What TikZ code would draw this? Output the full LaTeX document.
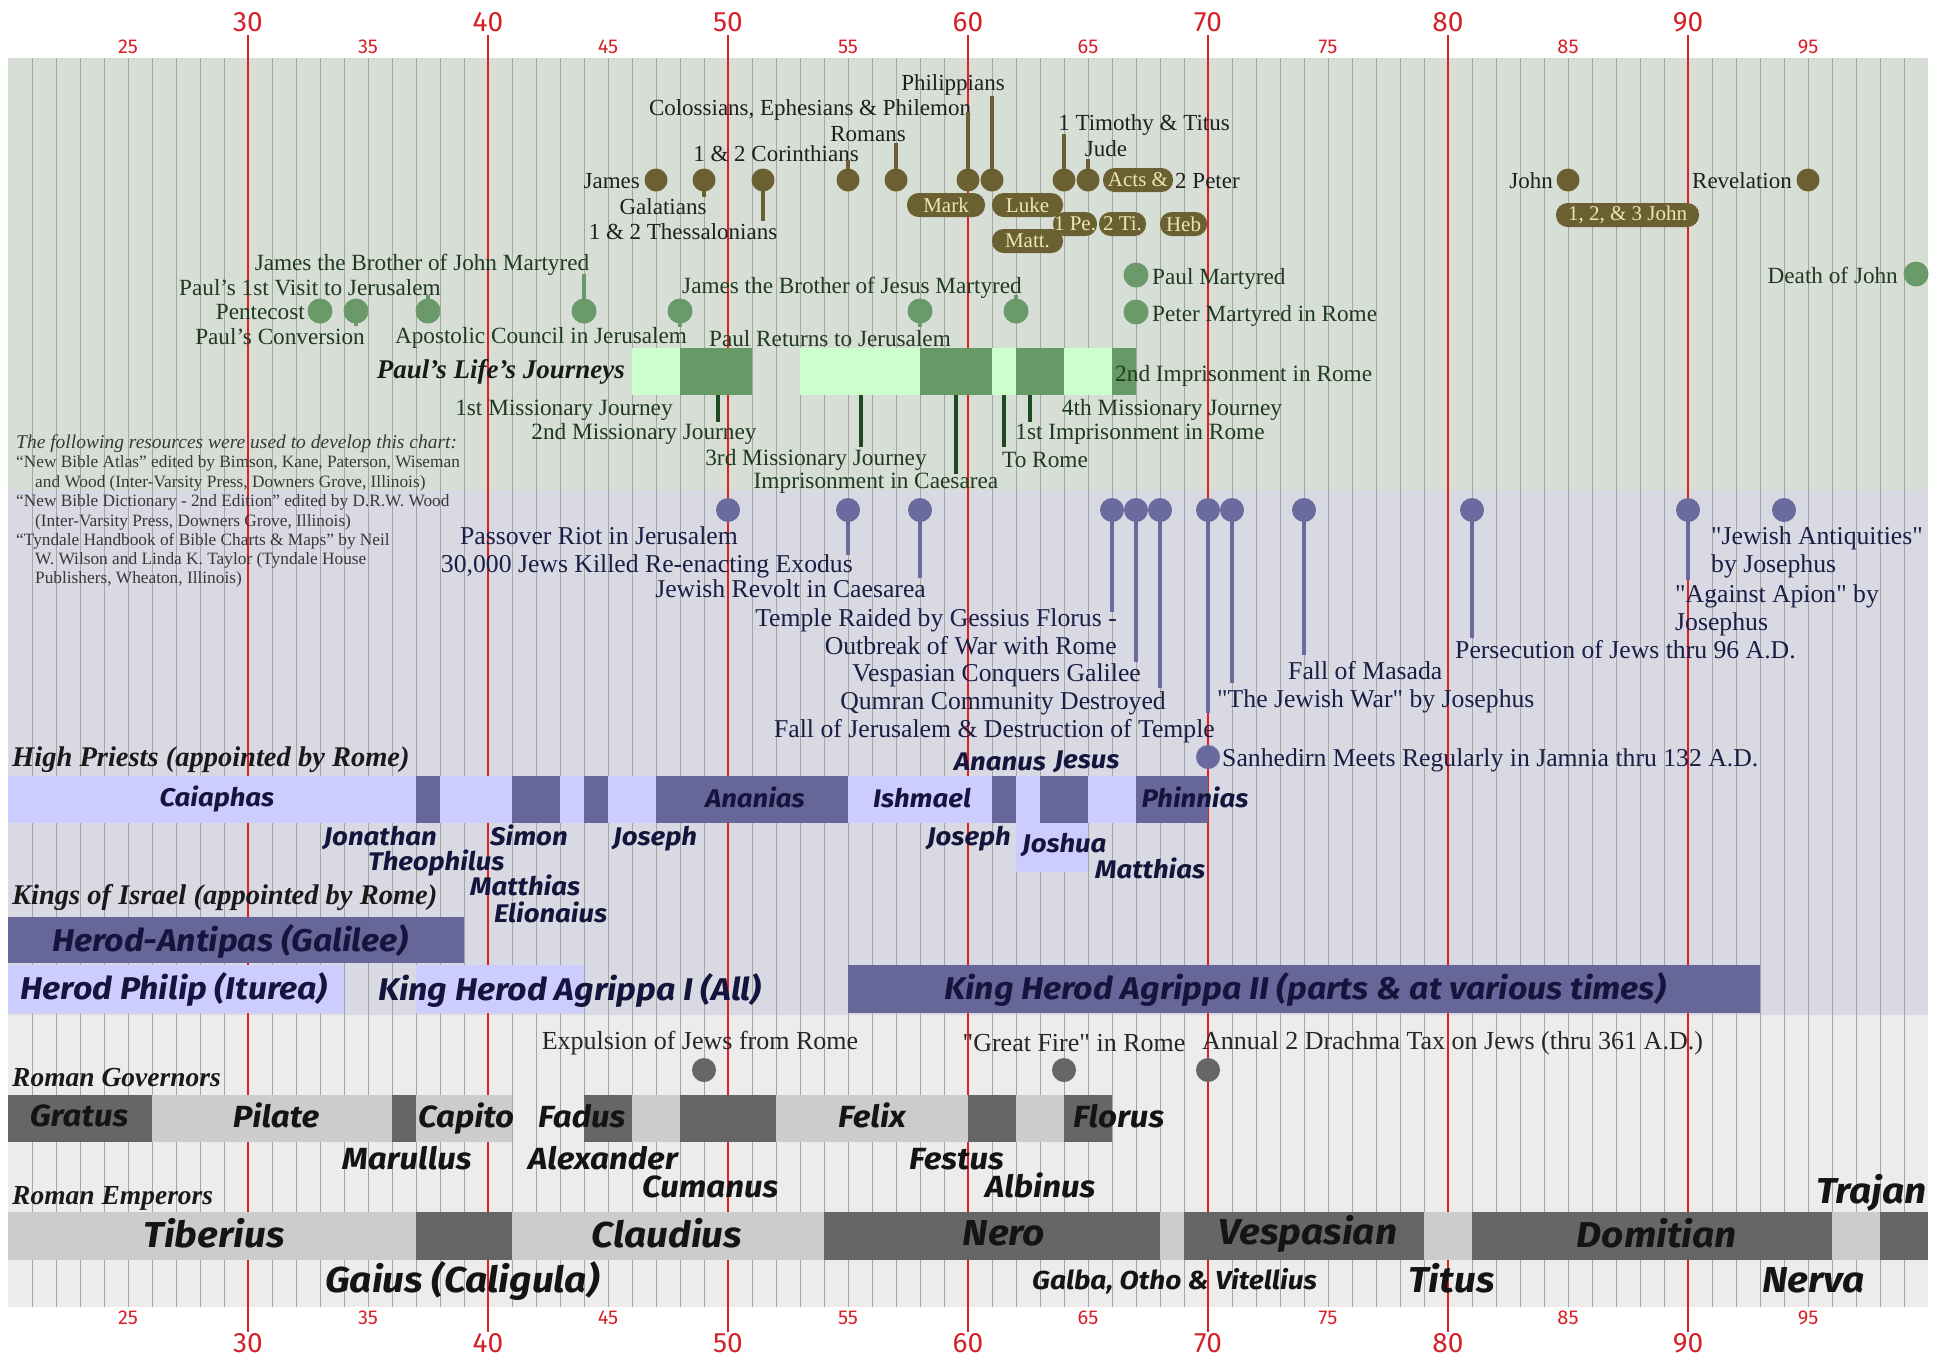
\documentclass[tikz,border=0pt]{standalone}
\usepackage{fontspec}
\setmainfont{Liberation Serif}[Ligatures=TeXOff]
\newfontfamily\sansf{Fira Sans}[FakeStretch=1.08]
\newfontfamily\numf{Fira Sans}
\newcommand{\Yr}[1]{(24*(#1)-472)}
\newcommand{\barseg}[5]{\fill[#1] ({\Yr{#2}},#4) rectangle ({\Yr{#3}},#5);}
\definecolor{bggreen}{HTML}{D6DED6}
\definecolor{bgblue}{HTML}{D8D9E3}
\definecolor{bggray}{HTML}{ECECEC}
\definecolor{gridc}{HTML}{A5A5A5}
\definecolor{redl}{HTML}{E02020}
\definecolor{rednum}{HTML}{D42028}
\definecolor{olive}{HTML}{6B6032}
\definecolor{cream}{HTML}{EEE6B0}
\definecolor{gdot}{HTML}{6A9A6A}
\definecolor{lgreen}{HTML}{CCFFCC}
\definecolor{dgreen}{HTML}{669966}
\definecolor{stemg}{HTML}{1F4A1F}
\definecolor{gtext}{HTML}{1F3A1F}
\definecolor{btext}{HTML}{1C1C44}
\definecolor{bdot}{HTML}{6A6A9E}
\definecolor{lav}{HTML}{CCCCFF}
\definecolor{slate}{HTML}{666699}
\definecolor{navy}{HTML}{14143C}
\definecolor{gdark}{HTML}{666666}
\definecolor{glight}{HTML}{CCCCCC}
\begin{document}
\begin{tikzpicture}[x=1pt,y=-1pt,
  gridline/.style={draw=gridc,line width=0.9pt},
  redline/.style={draw=redl,line width=2.2pt},
  bignum/.style={inner sep=0pt,text=rednum,font=\numf\fontsize{28}{30}\selectfont},
  smallnum/.style={inner sep=0pt,text=rednum,font=\numf\fontsize{20}{22}\selectfont},
  mw/.style={anchor=mid west,yshift=-4pt},
  me/.style={anchor=mid east,yshift=-4pt},
  bookdot/.style={circle,fill=olive,minimum size=23pt,inner sep=0pt},
  ostem/.style={draw=olive,line width=3.5pt},
  booklbl/.style={inner sep=0pt,text=black!88,font=\fontsize{23}{25}\selectfont,yshift=-2pt},
  pill/.style={fill=olive,text=cream,rounded corners=11.5pt,minimum height=24pt,inner sep=0pt,font=\fontsize{21}{22}\selectfont},
  evdot/.style={circle,fill=gdot,minimum size=25pt,inner sep=0pt},
  gstem/.style={draw=gdot,line width=4pt},
  evlbl/.style={inner sep=0pt,text=gtext,font=\fontsize{23.2}{25}\selectfont,yshift=-2pt},
  jlbl/.style={inner sep=0pt,text=gtext,font=\fontsize{23.3}{25}\selectfont,yshift=-2pt},
  jstem/.style={draw=stemg,line width=3.5pt},
  srclbl/.style={inner sep=0pt,text=black!78,font=\fontsize{17.3}{19}\selectfont,yshift=-1pt},
  bdotst/.style={circle,fill=bdot,minimum size=24pt,inner sep=0pt},
  bstem/.style={draw=bdot,line width=4pt},
  blbl/.style={inner sep=0pt,text=btext,font=\fontsize{25.7}{28}\selectfont,yshift=-2pt},
  hdr/.style={inner sep=0pt,text=black!90,font=\bfseries\itshape\fontsize{28.5}{30}\selectfont,yshift=-1pt},
  plbl/.style={inner sep=0pt,text=navy,font=\sansf\bfseries\itshape\fontsize{25.5}{28}\selectfont},
  klbl/.style={inner sep=0pt,text=navy,font=\sansf\bfseries\itshape\fontsize{31.4}{33}\selectfont},
  glbl/.style={inner sep=0pt,text=black!92,font=\sansf\bfseries\itshape\fontsize{30.6}{32}\selectfont},
  elbl/.style={inner sep=0pt,text=black!92,font=\sansf\bfseries\itshape\fontsize{36}{38}\selectfont},
  graydot/.style={circle,fill=gdark,minimum size=24pt,inner sep=0pt},
  rlbl/.style={inner sep=0pt,text=black!85,font=\fontsize{26}{28}\selectfont,yshift=-2pt}
]
\useasboundingbox (0,0) rectangle (1954,1358);
% ---------- backgrounds
\fill[bggreen] (8,58) rectangle (1928,490);
\fill[bgblue] (8,490) rectangle (1928,1015);
\fill[bggray] (8,1015) rectangle (1928,1307);
\foreach \k in {21,...,99} \draw[gridline] ({\Yr{\k}},58) -- ({\Yr{\k}},1307);
\foreach \k in {30,40,...,90} \draw[redline] ({\Yr{\k}},35) -- ({\Yr{\k}},1332);
\foreach \k in {30,40,...,90} {
  \node[bignum] (t\k) at ({\Yr{\k}},22) {\k};
  \node[bignum] (b\k) at ({\Yr{\k}},1343) {\k};}
\foreach \k in {25,35,...,95} {
  \node[smallnum] (ts\k) at ({\Yr{\k}},47) {\k};
  \node[smallnum] (bs\k) at ({\Yr{\k}},1318) {\k};}

% ---------- Paul's journeys bar
\barseg{lgreen}{46}{48}{348}{395}
\barseg{dgreen}{48}{51}{348}{395}
\barseg{lgreen}{53}{58}{348}{395}
\barseg{dgreen}{58}{61}{348}{395}
\barseg{lgreen}{61}{62}{348}{395}
\barseg{dgreen}{62}{64}{348}{395}
\barseg{lgreen}{64}{66}{348}{395}
\barseg{dgreen}{66}{67}{348}{395}

% ---------- High priests bar
\barseg{lav}{20}{37}{776}{823}
\barseg{slate}{37}{38}{776}{823}
\barseg{lav}{38}{41}{776}{823}
\barseg{slate}{41}{43}{776}{823}
\barseg{lav}{43}{44}{776}{823}
\barseg{slate}{44}{45}{776}{823}
\barseg{lav}{45}{47}{776}{823}
\barseg{slate}{47}{55}{776}{823}
\barseg{lav}{55}{61}{776}{823}
\barseg{slate}{61}{62}{776}{823}
\barseg{lav}{62}{63}{776}{823}
\barseg{slate}{63}{65}{776}{823}
\barseg{lav}{65}{67}{776}{823}
\barseg{slate}{67}{70}{776}{823}
\barseg{lav}{62}{65}{823}{872}

% ---------- Kings bars
\barseg{slate}{20}{39}{917}{963}
\barseg{lav}{20}{34}{965}{1013}
\barseg{lav}{37}{44}{965}{1013}
\barseg{slate}{55}{93}{965}{1013}

% ---------- Governors bar
\barseg{gdark}{20}{26}{1095}{1142}
\barseg{glight}{26}{36}{1095}{1142}
\barseg{gdark}{36}{37}{1095}{1142}
\barseg{glight}{37}{41}{1095}{1142}
\barseg{gdark}{44}{46}{1095}{1142}
\barseg{glight}{46}{48}{1095}{1142}
\barseg{gdark}{48}{52}{1095}{1142}
\barseg{glight}{52}{60}{1095}{1142}
\barseg{gdark}{60}{62}{1095}{1142}
\barseg{glight}{62}{64}{1095}{1142}
\barseg{gdark}{64}{66}{1095}{1142}

% ---------- Emperors bar
\barseg{glight}{20}{37}{1212}{1260}
\barseg{gdark}{37}{41}{1212}{1260}
\barseg{glight}{41}{54}{1212}{1260}
\barseg{gdark}{54}{68}{1212}{1260}
\barseg{glight}{68}{69}{1212}{1260}
\barseg{gdark}{69}{79}{1212}{1260}
\barseg{glight}{79}{81}{1212}{1260}
\barseg{gdark}{81}{96}{1212}{1260}
\barseg{glight}{96}{98}{1212}{1260}
\barseg{gdark}{98}{100}{1212}{1260}

% ---------- Books
\node[bookdot] (dJames) at ({\Yr{47}},180) {};
\node[booklbl,me] (lJames) at (640,180) {James};
\node[booklbl] (lGal) at (663,205) {Galatians};
\node[bookdot] (dGal) at ({\Yr{49}},180) {};
\coordinate (cGal) at ({\Yr{49}},197);
\draw[ostem] (dGal.center) -- (cGal);
\node[booklbl] (lThes) at (683,230) {1 \& 2 Thessalonians};
\node[bookdot] (dThes) at (763,180) {};
\coordinate (cThes) at (763,221);
\draw[ostem] (dThes.center) -- (cThes);
\node[booklbl] (lCor) at (776,152) {1 \& 2 Corinthians};
\node[bookdot] (dCor) at ({\Yr{55}},180) {};
\coordinate (cCor) at ({\Yr{55}},160);
\draw[ostem] (dCor.center) -- (cCor);
\node[booklbl] (lRom) at (868,132) {Romans};
\node[bookdot] (dRom) at ({\Yr{57}},180) {};
\coordinate (cRom) at ({\Yr{57}},143);
\draw[ostem] (dRom.center) -- (cRom);
\node[booklbl] (lCol) at (810,108) {Colossians, Ephesians \& Philemon};
\node[bookdot] (dCol) at ({\Yr{60}},180) {};
\coordinate (cCol) at ({\Yr{60}},112);
\draw[ostem] (dCol.center) -- (cCol);
\node[booklbl] (lPhil) at (953,83) {Philippians};
\node[bookdot] (dPhil) at ({\Yr{61}},180) {};
\coordinate (cPhil) at ({\Yr{61}},96);
\draw[ostem] (dPhil.center) -- (cPhil);
\node[booklbl] (lTim) at (1144,123) {1 Timothy \& Titus};
\node[bookdot] (dTim) at ({\Yr{64}},180) {};
\coordinate (cTim) at ({\Yr{64}},134);
\draw[ostem] (dTim.center) -- (cTim);
\node[booklbl] (lJude) at (1106,147) {Jude};
\node[bookdot] (dJude) at ({\Yr{65}},180) {};
\coordinate (cJude) at ({\Yr{65}},159);
\draw[ostem] (dJude.center) -- (cJude);
\node[bookdot] (dJohn) at ({\Yr{85}},180) {};
\node[booklbl,me] (lJohn) at (1553,180) {John};
\node[bookdot] (dRev) at ({\Yr{95}},180) {};
\node[booklbl,me] (lRev) at (1792,180) {Revelation};
\node[pill,minimum width=78pt] (pMark) at (946,205) {Mark};
\node[pill,minimum width=71pt] (pLuke) at (1027.5,205) {Luke};
\node[pill,minimum width=71pt] (pMatt) at (1027.5,241) {Matt.};
\node[pill,minimum width=44pt] (pPe) at (1075,224) {1 Pe.};
\node[pill,minimum width=47pt] (pTi) at (1122.5,224) {2 Ti.};
\node[pill,minimum width=47pt] (pHeb) at (1183.5,224) {Heb};
\node[pill,minimum width=70pt] (pActs) at (1138,180) {Acts \&};
\node[booklbl,mw] (l2Pet) at (1175,180) {2 Peter};
\node[pill,minimum width=143pt] (pJohn) at (1627.5,215) {1, 2, \& 3 John};

% ---------- Green events
\node[evdot] (ePent) at ({\Yr{33}},311) {};
\node[evlbl,me] (lPent) at (305,311) {Pentecost};
\node[evdot] (eConv) at ({\Yr{34.5}},311) {};
\coordinate (cConv) at ({\Yr{34.5}},326);
\draw[gstem] (eConv.center) -- (cConv);
\node[evlbl] (lConv) at (280,335) {Paul’s Conversion};
\node[evdot] (eVisit) at ({\Yr{37.5}},311) {};
\coordinate (cVisit) at ({\Yr{37.5}},295);
\draw[gstem] (eVisit.center) -- (cVisit);
\node[evlbl] (lVisit) at (310,286) {Paul’s 1st Visit to Jerusalem};
\node[evdot] (eJamesJ) at ({\Yr{44}},311) {};
\coordinate (cJamesJ) at ({\Yr{44}},274);
\draw[gstem] (eJamesJ.center) -- (cJamesJ);
\node[evlbl] (lJamesJ) at (422,263) {James the Brother of John Martyred};
\node[evdot] (eCouncil) at ({\Yr{48}},311) {};
\coordinate (cCouncil) at ({\Yr{48}},327);
\draw[gstem] (eCouncil.center) -- (cCouncil);
\node[evlbl] (lCouncil) at (541,336) {Apostolic Council in Jerusalem};
\node[evdot] (eReturn) at ({\Yr{58}},311) {};
\coordinate (cReturn) at ({\Yr{58}},327);
\draw[gstem] (eReturn.center) -- (cReturn);
\node[evlbl] (lReturn) at (830,337) {Paul Returns to Jerusalem};
\node[evdot] (eJamesB) at ({\Yr{62}},311) {};
\coordinate (cJamesB) at ({\Yr{62}},295);
\draw[gstem] (eJamesB.center) -- (cJamesB);
\node[evlbl] (lJamesB) at (852,286) {James the Brother of Jesus Martyred};
\node[evdot] (ePaulM) at ({\Yr{67}},275) {};
\node[evlbl,mw] (lPaulM) at (1152,276) {Paul Martyred};
\node[evdot] (ePeterM) at ({\Yr{67}},312) {};
\node[evlbl,mw] (lPeterM) at (1152,313) {Peter Martyred in Rome};
\node[evdot] (eJohnD) at ({\Yr{99.5}},274) {};
\node[evlbl,me] (lJohnD) at (1898,275) {Death of John};

% ---------- Journeys labels
\node[hdr,font=\bfseries\itshape\fontsize{27}{29}\selectfont,me] (lJour) at (625,371) {Paul’s Life’s Journeys};
\node[jlbl,mw] (l2Imp) at (1115,373) {2nd Imprisonment in Rome};
\coordinate (j2a) at (718,395); \coordinate (j2b) at (718,422);
\coordinate (j3a) at (861,395); \coordinate (j3b) at (861,447);
\coordinate (jCa) at (956,395); \coordinate (jCb) at (956,474);
\coordinate (jRa) at (1004,395); \coordinate (jRb) at (1004,447);
\coordinate (jIa) at (1030,395); \coordinate (jIb) at (1030,422);
\draw[jstem] (j2a) -- (j2b);
\draw[jstem] (j3a) -- (j3b);
\draw[jstem] (jCa) -- (jCb);
\draw[jstem] (jRa) -- (jRb);
\draw[jstem] (jIa) -- (jIb);
\node[jlbl] (lJ1) at (564,408) {1st Missionary Journey};
\node[jlbl] (lJ2) at (644,432) {2nd Missionary Journey};
\node[jlbl] (lJ3) at (816,458) {3rd Missionary Journey};
\node[jlbl] (lJC) at (876,481) {Imprisonment in Caesarea};
\node[jlbl] (lJR) at (1045,458) {To Rome};
\node[jlbl] (lJI) at (1140,432) {1st Imprisonment in Rome};
\node[jlbl] (lJ4) at (1172,408) {4th Missionary Journey};

% ---------- Sources
\node[srclbl,font=\itshape\fontsize{19.5}{21}\selectfont,mw] (s0) at (16,441) {The following resources were used to develop this chart:};
\node[srclbl,mw] (s1) at (16,460) {“New Bible Atlas” edited by Bimson, Kane, Paterson, Wiseman};
\node[srclbl,mw] (s2) at (35,480) {and Wood (Inter-Varsity Press, Downers Grove, Illinois)};
\node[srclbl,mw] (s3) at (16,499) {“New Bible Dictionary - 2nd Edition” edited by D.R.W. Wood};
\node[srclbl,mw] (s4) at (35,519) {(Inter-Varsity Press, Downers Grove, Illinois)};
\node[srclbl,mw] (s5) at (16,538) {“Tyndale Handbook of Bible Charts \& Maps” by Neil};
\node[srclbl,mw] (s6) at (35,557) {W. Wilson and Linda K. Taylor (Tyndale House};
\node[srclbl,mw] (s7) at (35,576) {Publishers, Wheaton, Illinois)};

% ---------- Blue events
\node[bdotst] (b50) at ({\Yr{50}},510) {};
\node[blbl,me] (lb50) at (738,536) {Passover Riot in Jerusalem};
\node[bdotst] (b55) at ({\Yr{55}},510) {};
\coordinate (cb55) at ({\Yr{55}},555);
\draw[bstem] (b55.center) -- (cb55);
\node[blbl,me] (lb55) at (853,564) {30,000 Jews Killed Re-enacting Exodus};
\node[bdotst] (b58) at ({\Yr{58}},510) {};
\coordinate (cb58) at ({\Yr{58}},578);
\draw[bstem] (b58.center) -- (cb58);
\node[blbl,me] (lb58) at (926,589) {Jewish Revolt in Caesarea};
\node[bdotst] (b66) at ({\Yr{66}},510) {};
\coordinate (cb66) at ({\Yr{66}},612);
\draw[bstem] (b66.center) -- (cb66);
\node[blbl,me] (lb66) at (1117,618) {Temple Raided by Gessius Florus -};
\node[blbl,me] (lb66b) at (1117,646) {Outbreak of War with Rome};
\node[bdotst] (b67) at ({\Yr{67}},510) {};
\coordinate (cb67) at ({\Yr{67}},662);
\draw[bstem] (b67.center) -- (cb67);
\node[blbl,me] (lb67) at (1141,673) {Vespasian Conquers Galilee};
\node[bdotst] (b68) at ({\Yr{68}},510) {};
\coordinate (cb68) at ({\Yr{68}},688);
\draw[bstem] (b68.center) -- (cb68);
\node[blbl,me] (lb68) at (1166,701) {Qumran Community Destroyed};
\node[bdotst] (b70) at ({\Yr{70}},510) {};
\coordinate (cb70) at ({\Yr{70}},713);
\draw[bstem] (b70.center) -- (cb70);
\node[blbl,me] (lb70) at (1215,729) {Fall of Jerusalem \& Destruction of Temple};
\node[bdotst] (b71) at ({\Yr{71}},510) {};
\coordinate (cb71) at ({\Yr{71}},683);
\draw[bstem] (b71.center) -- (cb71);
\node[blbl,mw] (lb71) at (1217,699) {"The Jewish War" by Josephus};
\node[bdotst] (b74) at ({\Yr{74}},510) {};
\coordinate (cb74) at ({\Yr{74}},655);
\draw[bstem] (b74.center) -- (cb74);
\node[blbl,mw] (lb74) at (1288,671) {Fall of Masada};
\node[bdotst] (b81) at ({\Yr{81}},510) {};
\coordinate (cb81) at ({\Yr{81}},638);
\draw[bstem] (b81.center) -- (cb81);
\node[blbl,mw] (lb81) at (1455,650) {Persecution of Jews thru 96 A.D.};
\node[bdotst] (b90) at ({\Yr{90}},510) {};
\coordinate (cb90) at ({\Yr{90}},580);
\draw[bstem] (b90.center) -- (cb90);
\node[blbl,mw] (lb90) at (1675,594) {"Against Apion" by};
\node[blbl,mw] (lb90b) at (1675,622) {Josephus};
\node[bdotst] (b94) at ({\Yr{94}},510) {};
\node[blbl,mw] (lb94) at (1711,536) {"Jewish Antiquities"};
\node[blbl,mw] (lb94b) at (1711,564) {by Josephus};
\node[bdotst] (bSan) at ({\Yr{70}},757) {};
\node[blbl,mw] (lSan) at (1222,758) {Sanhedirn Meets Regularly in Jamnia thru 132 A.D.};

% ---------- High priests labels
\node[hdr,mw] (hPriests) at (12,759) {High Priests (appointed by Rome)};
\node[plbl] (pCaia) at (217,799) {Caiaphas};
\node[plbl] (pAnan) at (755,797) {Ananias};
\node[plbl] (pIshm) at (922,798) {Ishmael};
\node[plbl] (pPhin) at (1195,797) {Phinnias};
\node[plbl] (pAnanus) at (1000,762) {Ananus};
\node[plbl] (pJesus) at (1087,762) {Jesus};
\node[plbl,me] (pJona) at (437,839) {Jonathan};
\node[plbl,mw] (pTheo) at (368,864) {Theophilus};
\node[plbl,mw] (pSimon) at (490,839) {Simon};
\node[plbl,mw] (pMatt1) at (470,889) {Matthias};
\node[plbl,mw] (pElio) at (494,916) {Elionaius};
\node[plbl,mw] (pJos1) at (613,839) {Joseph};
\node[plbl,me] (pJos2) at (1011,839) {Joseph};
\node[plbl,mw] (pJosh) at (1022,846) {Joshua};
\node[plbl,mw] (pMatt2) at (1095,872) {Matthias};

% ---------- Kings labels
\node[hdr,mw] (hKings) at (12,897) {Kings of Israel (appointed by Rome)};
\node[klbl] (kAnt) at (230,941) {Herod-Antipas (Galilee)};
\node[klbl] (kPhil) at (174,989) {Herod Philip (Iturea)};
\node[klbl,mw] (kAgr1) at (378,994) {King Herod Agrippa I (All)};
\node[klbl] (kAgr2) at (1305,989) {King Herod Agrippa II (parts \& at various times)};

% ---------- Rome events
\node[graydot] (g49) at ({\Yr{49}},1070) {};
\node[rlbl] (lg49) at (700,1041) {Expulsion of Jews from Rome};
\node[graydot] (g64) at ({\Yr{64}},1070) {};
\node[rlbl] (lg64) at (1074,1041) {"Great Fire" in Rome};
\node[graydot] (g70) at ({\Yr{70}},1070) {};
\node[rlbl,mw] (lg70) at (1202,1041) {Annual 2 Drachma Tax on Jews (thru 361 A.D.)};

% ---------- Governors labels
\node[hdr,font=\itshape\bfseries\fontsize{27.5}{29}\selectfont,mw] (hGov) at (12,1079) {Roman Governors};
\node[glbl] (gGrat) at (79,1115.5) {Gratus};
\node[glbl] (gPil) at (276,1115.5) {Pilate};
\node[glbl,mw] (gCap) at (418,1121.5) {Capito};
\node[glbl,mw] (gFad) at (538,1121.5) {Fadus};
\node[glbl] (gFel) at (872,1115.5) {Felix};
\node[glbl,mw] (gFlo) at (1073,1121.5) {Florus};
\node[glbl,mw] (gMar) at (342,1163.5) {Marullus};
\node[glbl,mw] (gAlex) at (528,1163.5) {Alexander};
\node[glbl,mw] (gCum) at (642,1191) {Cumanus};
\node[glbl,mw] (gFes) at (909,1163.5) {Festus};
\node[glbl,mw] (gAlb) at (985,1191) {Albinus};

% ---------- Emperors labels
\node[hdr,font=\itshape\bfseries\fontsize{27.5}{29}\selectfont,mw] (hEmp) at (12,1197) {Roman Emperors};
\node[elbl] (eTib) at (214,1233) {Tiberius};
\node[elbl] (eCla) at (667,1233) {Claudius};
\node[elbl] (eNer) at (1004,1233) {Nero};
\node[elbl] (eVes) at (1308,1234) {Vespasian};
\node[elbl] (eDom) at (1657,1233) {Domitian};
\node[elbl,me] (eTra) at (1927,1197) {Trajan};
\node[elbl,mw] (eGai) at (325,1286) {Gaius (Caligula)};
\node[elbl,font=\sansf\bfseries\itshape\fontsize{26}{28}\selectfont,mw] (eGal) at (1032,1283) {Galba, Otho \& Vitellius};
\node[elbl,mw] (eTit) at (1408,1286) {Titus};
\node[elbl,mw] (eNerva) at (1762,1286) {Nerva};
\end{tikzpicture}
\end{document}
